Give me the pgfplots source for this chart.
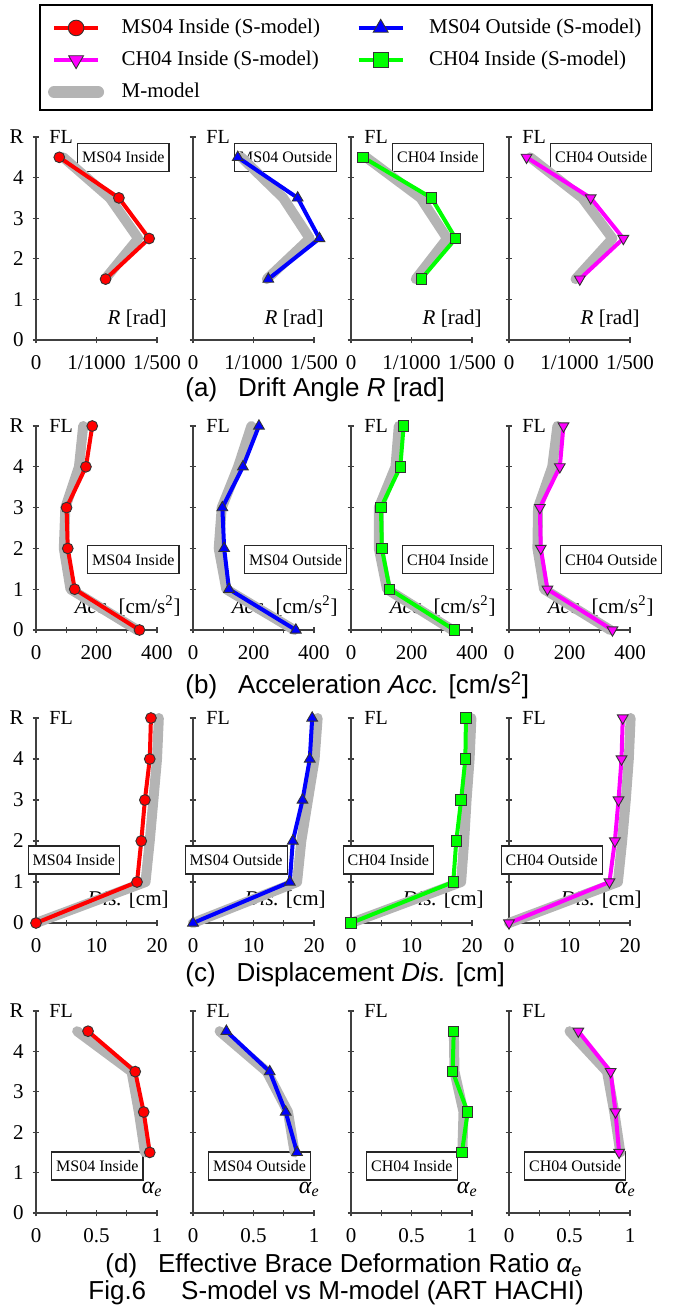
\documentclass[border=0pt]{standalone}
\usepackage{fontspec}
\setmainfont{Liberation Serif}
\newfontfamily\arial{Liberation Sans}
\usepackage{pgfplots}
\pgfplotsset{compat=1.18}
\definecolor{mgray}{RGB}{180,180,180}
\definecolor{sred}{RGB}{255,0,0}
\definecolor{sblue}{RGB}{0,0,255}
\definecolor{sgreen}{RGB}{0,255,0}
\definecolor{smag}{RGB}{255,0,255}
\pgfplotsset{
 base/.style={scale only axis, width=60.5pt, axis lines=left, axis line style={-, line width=0.6pt, black!75},
   ymin=0, ymax=5, ytick={0,1,2,3,4,5}, enlargelimits=false, clip=false,
   tick style={line width=0.6pt, black!75}, major tick length=3.3pt,
   tick label style={font=\fontsize{10.5}{12}\selectfont},
   xticklabel style={yshift=-2.5pt}, yticklabel style={xshift=-1pt}},
 rowa/.style={base, height=101.5pt, xmin=0, xmax=2, xtick={0,1,2}, xticklabels={0,1/1000,1/500}},
 rowb/.style={base, height=102pt, xmin=0, xmax=400, xtick={0,100,200,300,400}, xticklabels={0,,200,,400}},
 rowc/.style={base, height=102.5pt, xmin=0, xmax=20, xtick={0,5,10,15,20}, xticklabels={0,,10,,20}},
 rowd/.style={base, height=101pt, xmin=0, xmax=1, xtick={0,0.25,0.5,0.75,1}, xticklabels={0,,0.5,,1}},
 first/.style={yticklabels={0,1,2,3,4,R}},
 other/.style={yticklabels={,,,,,}},
 mm/.style={mgray, line width=5pt, line cap=round, line join=round, mark=none},
 sA/.style={sred, line width=2pt, mark=*, mark size=2.7pt, mark options={solid, fill=sred, draw=black!80, line width=0.45pt}},
 sB/.style={sblue, line width=2pt, mark=triangle*, mark size=3.1pt, mark options={solid, fill=sblue, draw=black!80, line width=0.45pt}},
 sC/.style={sgreen, line width=2pt, mark=square*, mark size=2.6pt, mark options={solid, fill=sgreen, draw=black!80, line width=0.45pt}},
 sD/.style={smag, line width=2pt, mark=triangle*, mark size=3.1pt, mark options={solid, rotate=180, fill=smag, draw=black!80, line width=0.45pt}},
 lA/.style={sA, mark size=3.9pt},
 lB/.style={sB, mark size=4.3pt},
 lC/.style={sC, mark size=3.75pt},
 lD/.style={sD, mark size=4.3pt},
 lM/.style={mm, line width=6pt},
}
\tikzset{
 lbox/.style={draw=black!85, fill=white, line width=0.6pt, font=\fontsize{8}{9}\selectfont, inner xsep=2.3pt, inner ysep=0pt, minimum height=14pt, anchor=west},
 fl/.style={anchor=west, inner sep=0pt, xshift=6.5pt, font=\fontsize{10}{12}\selectfont},
 alab/.style={anchor=base east, inner sep=0pt, font=\fontsize{10.5}{12}\selectfont},
 captxt/.style={anchor=west, inner sep=0pt, font=\arial\fontsize{13}{15}\selectfont},
}
\begin{document}
\begin{tikzpicture}
\useasboundingbox (0,0) rectangle (337pt,-655.5pt);

% ---------- legend ----------
\draw[black, line width=0.6pt] (20pt,-2.5pt) rectangle (326pt,-55pt);
\begin{axis}[at={(20pt,-2pt)}, anchor=north west, hide axis, scale only axis, width=306pt, height=53pt,
  xmin=0, xmax=1, ymin=0, ymax=1, legend columns=2, legend cell align=left,
  legend image code/.code={\draw[mark repeat=2,mark phase=2,#1] plot coordinates {(0pt,0pt)(11pt,0pt)(22pt,0pt)};},
  legend style={at={(0.01258,0.8666)}, anchor=north west, draw=none, fill=none, inner xsep=0pt, inner ysep=0pt,
    row sep=6.63pt, nodes={inner sep=0pt, text height=0.76em, text depth=0.18em, font=\fontsize{10.5}{12}\selectfont},
    /tikz/every odd column/.append style={column sep=8.8pt}}]
\addlegendimage{lA}\addlegendentry{\makebox[117.5pt][l]{MS04 Inside (S-model)}}
\addlegendimage{lB}\addlegendentry{\makebox[100pt][l]{\hspace*{3.4pt}MS04 Outside (S-model)}}
\addlegendimage{lD}\addlegendentry{\makebox[117.5pt][l]{CH04 Inside (S-model)}}
\addlegendimage{lC}\addlegendentry{\makebox[100pt][l]{\hspace*{3.4pt}CH04 Inside (S-model)}}
\addlegendimage{lM}\addlegendentry{\makebox[117.5pt][l]{M-model}}
\end{axis}

% ---------- row (a) drift angle (x in 1/1000 rad) ----------
\begin{axis}[rowa, first, at={(18pt,-170pt)}, anchor=south west]
\node[alab, xshift=5pt, yshift=8pt] at (rel axis cs:1,0) {\textit{R} [rad]};
\node[fl] at (rel axis cs:0,1) {FL};
\node[lbox, xshift=20.5pt] at (rel axis cs:0,0.9) {MS04 Inside};
\addplot[mm] coordinates {(0.45,4.5)(1.22,3.5)(1.69,2.5)(1.14,1.5)};
\addplot[sA] coordinates {(0.385,4.5)(1.37,3.5)(1.87,2.5)(1.15,1.5)};
\end{axis}
\begin{axis}[rowa, other, at={(96.5pt,-170pt)}, anchor=south west]
\node[alab, xshift=5pt, yshift=8pt] at (rel axis cs:1,0) {\textit{R} [rad]};
\node[fl] at (rel axis cs:0,1) {FL};
\node[lbox, xshift=20.5pt] at (rel axis cs:0,0.9) {MS04 Outside};
\addplot[mm] coordinates {(0.80,4.5)(1.49,3.5)(1.93,2.5)(1.22,1.5)};
\addplot[sB] coordinates {(0.74,4.5)(1.73,3.5)(2.09,2.5)(1.245,1.5)};
\end{axis}
\begin{axis}[rowa, other, at={(175.5pt,-170pt)}, anchor=south west]
\node[alab, xshift=5pt, yshift=8pt] at (rel axis cs:1,0) {\textit{R} [rad]};
\node[fl] at (rel axis cs:0,1) {FL};
\node[lbox, xshift=20.5pt] at (rel axis cs:0,0.9) {CH04 Inside};
\addplot[mm] coordinates {(0.25,4.5)(1.15,3.5)(1.59,2.5)(1.07,1.5)};
\addplot[sC] coordinates {(0.20,4.5)(1.33,3.5)(1.73,2.5)(1.16,1.5)};
\end{axis}
\begin{axis}[rowa, other, at={(254.5pt,-170pt)}, anchor=south west]
\node[alab, xshift=5pt, yshift=8pt] at (rel axis cs:1,0) {\textit{R} [rad]};
\node[fl] at (rel axis cs:0,1) {FL};
\node[lbox, xshift=20.5pt] at (rel axis cs:0,0.9) {CH04 Outside};
\addplot[mm] coordinates {(0.35,4.5)(1.21,3.5)(1.71,2.5)(1.10,1.5)};
\addplot[sD] coordinates {(0.29,4.5)(1.35,3.5)(1.89,2.5)(1.17,1.5)};
\end{axis}

% ---------- row (b) acceleration ----------
\begin{axis}[rowb, first, at={(18pt,-315pt)}, anchor=south west]
\node[alab, xshift=12pt, yshift=8.5pt] at (rel axis cs:1,0) {\textit{Acc.} [cm/s\textsuperscript{2}]};
\node[fl] at (rel axis cs:0,1) {FL};
\node[lbox, xshift=25.5pt] at (rel axis cs:0,0.345) {MS04 Inside};
\addplot[mm] coordinates {(335,0)(114,1)(92,2)(97,3)(142,4)(156,5)};
\addplot[sA] coordinates {(342,0)(128,1)(105,2)(101,3)(165,4)(186,5)};
\end{axis}
\begin{axis}[rowb, other, at={(96.5pt,-315pt)}, anchor=south west]
\node[alab, xshift=12pt, yshift=8.5pt] at (rel axis cs:1,0) {\textit{Acc.} [cm/s\textsuperscript{2}]};
\node[fl] at (rel axis cs:0,1) {FL};
\node[lbox, xshift=25.5pt] at (rel axis cs:0,0.345) {MS04 Outside};
\addplot[mm] coordinates {(335,0)(110,1)(85,2)(95,3)(149,4)(193,5)};
\addplot[sB] coordinates {(340,0)(119,1)(103,2)(97,3)(165,4)(218,5)};
\end{axis}
\begin{axis}[rowb, other, at={(175.5pt,-315pt)}, anchor=south west]
\node[alab, xshift=12pt, yshift=8.5pt] at (rel axis cs:1,0) {\textit{Acc.} [cm/s\textsuperscript{2}]};
\node[fl] at (rel axis cs:0,1) {FL};
\node[lbox, xshift=25.5pt] at (rel axis cs:0,0.345) {CH04 Inside};
\addplot[mm] coordinates {(335,0)(119,1)(92,2)(92,3)(147,4)(158,5)};
\addplot[sC] coordinates {(342,0)(128,1)(102,2)(99,3)(163,4)(174,5)};
\end{axis}
\begin{axis}[rowb, other, at={(254.5pt,-315pt)}, anchor=south west]
\node[alab, xshift=12pt, yshift=8.5pt] at (rel axis cs:1,0) {\textit{Acc.} [cm/s\textsuperscript{2}]};
\node[fl] at (rel axis cs:0,1) {FL};
\node[lbox, xshift=25.5pt] at (rel axis cs:0,0.345) {CH04 Outside};
\addplot[mm] coordinates {(335,0)(116,1)(94,2)(96,3)(143,4)(160,5)};
\addplot[sD] coordinates {(342,0)(127,1)(105,2)(102,3)(168,4)(180,5)};
\end{axis}

% ---------- row (c) displacement ----------
\begin{axis}[rowc, first, at={(18pt,-461.5pt)}, anchor=south west]
\node[alab, xshift=6pt, yshift=9pt] at (rel axis cs:1,0) {\textit{Dis.} [cm]};
\node[fl] at (rel axis cs:0,1) {FL};
\node[lbox, xshift=-4.25pt] at (rel axis cs:0,0.307) {MS04 Inside};
\addplot[mm] coordinates {(0,0)(18.1,1)(18.8,2)(19.4,3)(20.0,4)(20.3,5)};
\addplot[sA] coordinates {(0,0)(16.7,1)(17.4,2)(18.0,3)(18.8,4)(19.0,5)};
\end{axis}
\begin{axis}[rowc, other, at={(96.5pt,-461.5pt)}, anchor=south west]
\node[alab, xshift=6pt, yshift=9pt] at (rel axis cs:1,0) {\textit{Dis.} [cm]};
\node[fl] at (rel axis cs:0,1) {FL};
\node[lbox, xshift=-4.25pt] at (rel axis cs:0,0.307) {MS04 Outside};
\addplot[mm] coordinates {(0,0)(17.2,1)(17.9,2)(19.0,3)(20.1,4)(20.6,5)};
\addplot[sB] coordinates {(0,0)(16.0,1)(16.5,2)(18.1,3)(19.3,4)(19.7,5)};
\end{axis}
\begin{axis}[rowc, other, at={(175.5pt,-461.5pt)}, anchor=south west]
\node[alab, xshift=6pt, yshift=9pt] at (rel axis cs:1,0) {\textit{Dis.} [cm]};
\node[fl] at (rel axis cs:0,1) {FL};
\node[lbox, xshift=-4.25pt] at (rel axis cs:0,0.307) {CH04 Inside};
\addplot[mm] coordinates {(0,0)(18.2,1)(18.7,2)(19.1,3)(19.6,4)(19.9,5)};
\addplot[sC] coordinates {(0,0)(16.9,1)(17.4,2)(18.2,3)(18.9,4)(19.0,5)};
\end{axis}
\begin{axis}[rowc, other, at={(254.5pt,-461.5pt)}, anchor=south west]
\node[alab, xshift=6pt, yshift=9pt] at (rel axis cs:1,0) {\textit{Dis.} [cm]};
\node[fl] at (rel axis cs:0,1) {FL};
\node[lbox, xshift=-4.25pt] at (rel axis cs:0,0.307) {CH04 Outside};
\addplot[mm] coordinates {(0,0)(18.0,1)(18.7,2)(19.3,3)(19.8,4)(20.1,5)};
\addplot[sD] coordinates {(0,0)(16.6,1)(17.5,2)(18.1,3)(18.6,4)(18.8,5)};
\end{axis}

% ---------- row (d) effective brace deformation ratio ----------
\begin{axis}[rowd, first, at={(18pt,-606.5pt)}, anchor=south west]
\node[alab, xshift=3pt, yshift=10pt, font=\fontsize{12}{14}\selectfont] at (rel axis cs:1,0) {\textit{α\textsubscript{e}}};
\node[fl] at (rel axis cs:0,1) {FL};
\node[lbox, xshift=7.5pt] at (rel axis cs:0,0.233) {MS04 Inside};
\addplot[mm] coordinates {(0.90,1.5)(0.85,2.5)(0.79,3.5)(0.34,4.5)};
\addplot[sA] coordinates {(0.94,1.5)(0.89,2.5)(0.82,3.5)(0.43,4.5)};
\end{axis}
\begin{axis}[rowd, other, at={(96.5pt,-606.5pt)}, anchor=south west]
\node[alab, xshift=3pt, yshift=10pt, font=\fontsize{12}{14}\selectfont] at (rel axis cs:1,0) {\textit{α\textsubscript{e}}};
\node[fl] at (rel axis cs:0,1) {FL};
\node[lbox, xshift=7.5pt] at (rel axis cs:0,0.233) {MS04 Outside};
\addplot[mm] coordinates {(0.84,1.5)(0.785,2.5)(0.61,3.5)(0.22,4.5)};
\addplot[sB] coordinates {(0.86,1.5)(0.766,2.5)(0.634,3.5)(0.276,4.5)};
\end{axis}
\begin{axis}[rowd, other, at={(175.5pt,-606.5pt)}, anchor=south west]
\node[alab, xshift=3pt, yshift=10pt, font=\fontsize{12}{14}\selectfont] at (rel axis cs:1,0) {\textit{α\textsubscript{e}}};
\node[fl] at (rel axis cs:0,1) {FL};
\node[lbox, xshift=7.5pt] at (rel axis cs:0,0.233) {CH04 Inside};
\addplot[mm] coordinates {(0.92,1.5)(0.93,2.5)(0.855,3.5)(0.85,4.5)};
\addplot[sC] coordinates {(0.917,1.5)(0.964,2.5)(0.84,3.5)(0.849,4.5)};
\end{axis}
\begin{axis}[rowd, other, at={(254.5pt,-606.5pt)}, anchor=south west]
\node[alab, xshift=3pt, yshift=10pt, font=\fontsize{12}{14}\selectfont] at (rel axis cs:1,0) {\textit{α\textsubscript{e}}};
\node[fl] at (rel axis cs:0,1) {FL};
\node[lbox, xshift=7.5pt] at (rel axis cs:0,0.233) {CH04 Outside};
\addplot[mm] coordinates {(0.92,1.5)(0.87,2.5)(0.81,3.5)(0.50,4.5)};
\addplot[sD] coordinates {(0.91,1.5)(0.88,2.5)(0.84,3.5)(0.573,4.5)};
\end{axis}

% ---------- captions ----------
\node[captxt] at (92.5pt,-195pt) {(a)\hspace{10.5pt}Drift Angle \textit{R} [rad]};
\node[captxt] at (92.5pt,-342.5pt) {(b)\hspace{10.5pt}Acceleration \textit{Acc.} [cm/s\textsuperscript{2}]};
\node[captxt] at (92.5pt,-487.5pt) {(c)\hspace{10.5pt}Displacement \textit{Dis.} [cm]};
\node[captxt] at (52.5pt,-633pt) {(d)\hspace{10.5pt}Effective Brace Deformation Ratio \textit{α\textsubscript{e}}};
\node[captxt] at (44pt,-646.5pt) {Fig.6\hspace{17.5pt}S-model vs M-model (ART HACHI)};
\end{tikzpicture}
\end{document}
